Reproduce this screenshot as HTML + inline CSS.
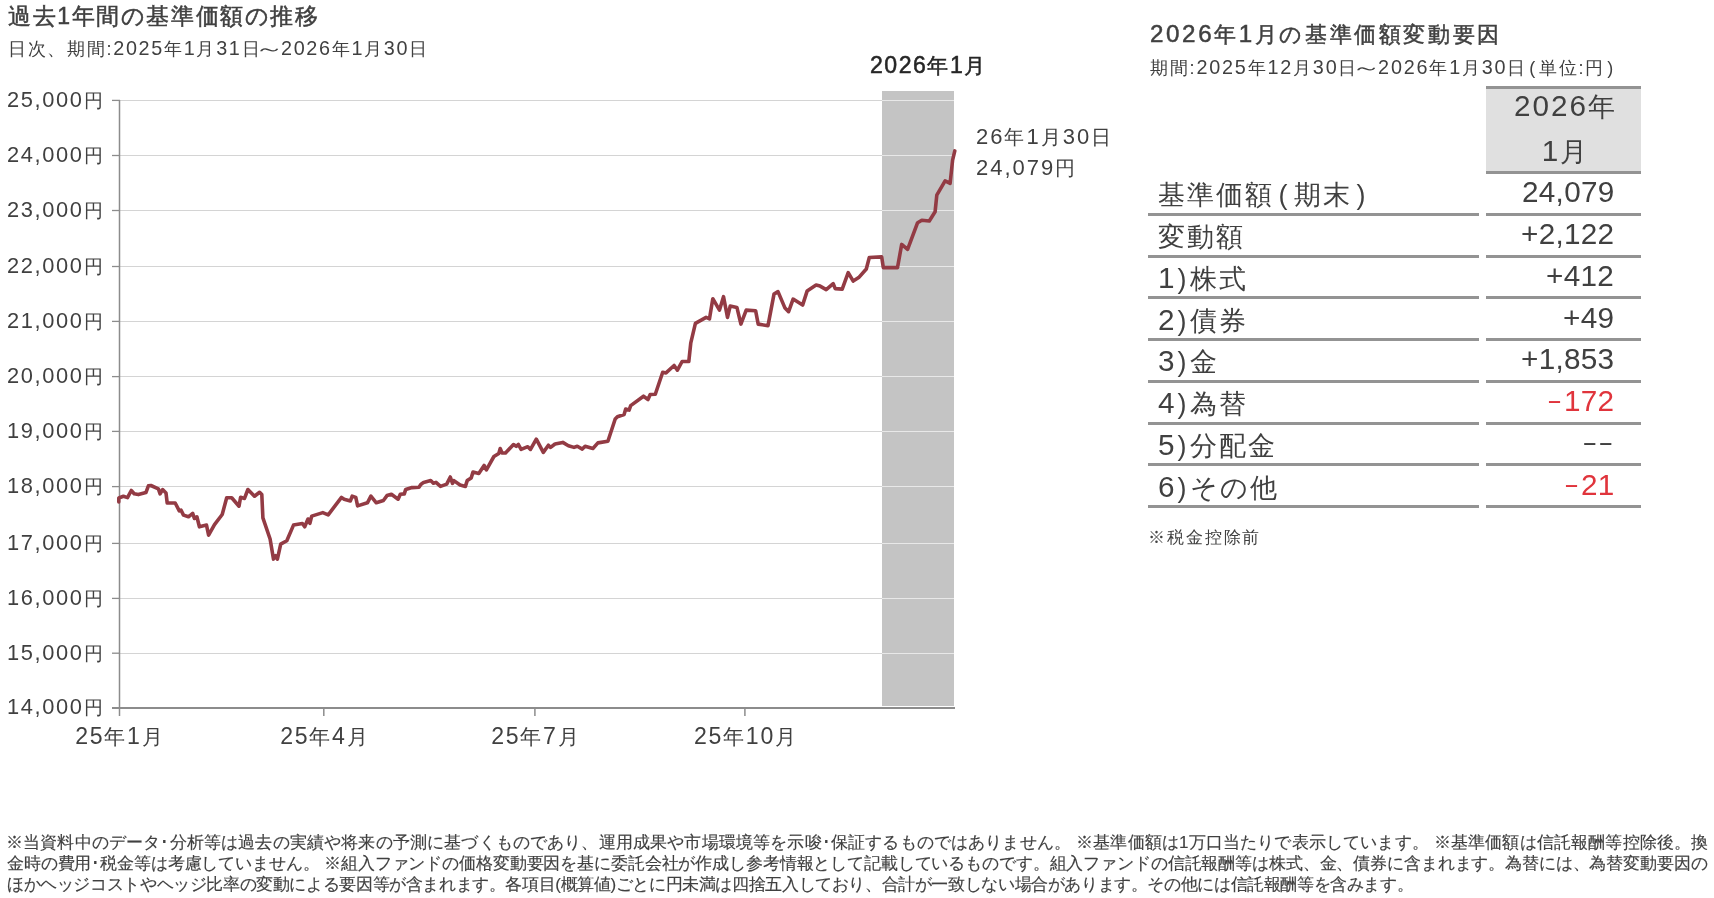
<!DOCTYPE html>
<html lang="ja"><head><meta charset="utf-8"><style>
html,body{margin:0;padding:0;background:#fff;}
body{width:1714px;height:898px;position:relative;overflow:hidden;font-family:"Liberation Sans",sans-serif;color:#404040;}
.a{position:absolute;white-space:nowrap;line-height:1;will-change:transform;}
.tb{position:absolute;height:3px;background:#939393;}
.pp{margin:0 4.5px;}
.p2{margin:0 1px;}
.dd{display:inline-block;width:16px;text-align:center;transform:scaleX(0.85);}
.p3{margin:0 2px;}
.wv{display:inline-block;transform:scaleX(1.7);}
.mn{display:inline-block;width:13px;transform:scaleX(0.85);transform-origin:0 0;margin-right:3px;}
.red{color:#e0343c;}
svg{position:absolute;left:0;top:0;}
</style></head><body>
<svg width="1714" height="898">
<rect x="882" y="91" width="72" height="615" fill="#c4c4c4"/>
<line x1="120" y1="100.5" x2="882" y2="100.5" stroke="#d4d4d4" stroke-width="1"/>
<line x1="882" y1="100.5" x2="954" y2="100.5" stroke="#e8e8e8" stroke-width="1.2"/>
<line x1="112" y1="100.4" x2="120" y2="100.4" stroke="#8c8c8c" stroke-width="1.3"/>
<line x1="120" y1="155.5" x2="882" y2="155.5" stroke="#d4d4d4" stroke-width="1"/>
<line x1="882" y1="155.5" x2="954" y2="155.5" stroke="#e8e8e8" stroke-width="1.2"/>
<line x1="112" y1="155.5" x2="120" y2="155.5" stroke="#8c8c8c" stroke-width="1.3"/>
<line x1="120" y1="210.5" x2="882" y2="210.5" stroke="#d4d4d4" stroke-width="1"/>
<line x1="882" y1="210.5" x2="954" y2="210.5" stroke="#e8e8e8" stroke-width="1.2"/>
<line x1="112" y1="210.5" x2="120" y2="210.5" stroke="#8c8c8c" stroke-width="1.3"/>
<line x1="120" y1="266.5" x2="882" y2="266.5" stroke="#d4d4d4" stroke-width="1"/>
<line x1="882" y1="266.5" x2="954" y2="266.5" stroke="#e8e8e8" stroke-width="1.2"/>
<line x1="112" y1="266.5" x2="120" y2="266.5" stroke="#8c8c8c" stroke-width="1.3"/>
<line x1="120" y1="321.5" x2="882" y2="321.5" stroke="#d4d4d4" stroke-width="1"/>
<line x1="882" y1="321.5" x2="954" y2="321.5" stroke="#e8e8e8" stroke-width="1.2"/>
<line x1="112" y1="321.4" x2="120" y2="321.4" stroke="#8c8c8c" stroke-width="1.3"/>
<line x1="120" y1="376.5" x2="882" y2="376.5" stroke="#d4d4d4" stroke-width="1"/>
<line x1="882" y1="376.5" x2="954" y2="376.5" stroke="#e8e8e8" stroke-width="1.2"/>
<line x1="112" y1="376.6" x2="120" y2="376.6" stroke="#8c8c8c" stroke-width="1.3"/>
<line x1="120" y1="431.5" x2="882" y2="431.5" stroke="#d4d4d4" stroke-width="1"/>
<line x1="882" y1="431.5" x2="954" y2="431.5" stroke="#e8e8e8" stroke-width="1.2"/>
<line x1="112" y1="431.4" x2="120" y2="431.4" stroke="#8c8c8c" stroke-width="1.3"/>
<line x1="120" y1="486.5" x2="882" y2="486.5" stroke="#d4d4d4" stroke-width="1"/>
<line x1="882" y1="486.5" x2="954" y2="486.5" stroke="#e8e8e8" stroke-width="1.2"/>
<line x1="112" y1="486.6" x2="120" y2="486.6" stroke="#8c8c8c" stroke-width="1.3"/>
<line x1="120" y1="543.5" x2="882" y2="543.5" stroke="#d4d4d4" stroke-width="1"/>
<line x1="882" y1="543.5" x2="954" y2="543.5" stroke="#e8e8e8" stroke-width="1.2"/>
<line x1="112" y1="543.4" x2="120" y2="543.4" stroke="#8c8c8c" stroke-width="1.3"/>
<line x1="120" y1="598.5" x2="882" y2="598.5" stroke="#d4d4d4" stroke-width="1"/>
<line x1="882" y1="598.5" x2="954" y2="598.5" stroke="#e8e8e8" stroke-width="1.2"/>
<line x1="112" y1="598.4" x2="120" y2="598.4" stroke="#8c8c8c" stroke-width="1.3"/>
<line x1="120" y1="653.5" x2="882" y2="653.5" stroke="#d4d4d4" stroke-width="1"/>
<line x1="882" y1="653.5" x2="954" y2="653.5" stroke="#e8e8e8" stroke-width="1.2"/>
<line x1="112" y1="653.2" x2="120" y2="653.2" stroke="#8c8c8c" stroke-width="1.3"/>
<line x1="112" y1="708.0" x2="120" y2="708.0" stroke="#8c8c8c" stroke-width="1.3"/>
<line x1="119.5" y1="100" x2="119.5" y2="709" stroke="#8c8c8c" stroke-width="1.5"/>
<line x1="112" y1="708" x2="955" y2="708" stroke="#8c8c8c" stroke-width="2"/>
<line x1="119.5" y1="708" x2="119.5" y2="716" stroke="#8c8c8c" stroke-width="1.5"/>
<line x1="323.8" y1="708" x2="323.8" y2="716" stroke="#8c8c8c" stroke-width="1.5"/>
<line x1="534.9" y1="708" x2="534.9" y2="716" stroke="#8c8c8c" stroke-width="1.5"/>
<line x1="744.9" y1="708" x2="744.9" y2="716" stroke="#8c8c8c" stroke-width="1.5"/>
<polyline fill="none" stroke="#933b44" stroke-width="3.6" stroke-linejoin="round" stroke-linecap="round" points="118.8,502.0 118.8,498.0 123.4,496.3 127.5,497.6 131.3,490.5 134.2,493.8 138.4,494.6 145.9,492.6 148.4,485.9 150.9,485.5 158.4,488.8 160.1,493.8 162.6,489.6 166.0,493.0 167.2,503.0 175.2,503.0 179.3,510.9 181.0,510.1 183.5,515.1 188.5,516.8 192.7,513.4 194.4,518.5 196.9,516.8 199.4,526.8 206.5,525.1 208.6,535.2 214.5,524.6 222.2,514.5 226.7,497.8 231.7,497.8 239.0,506.2 240.6,497.3 244.5,498.4 247.9,489.5 254.5,496.2 259.6,492.3 261.8,494.5 262.9,517.9 270.1,539.0 273.5,559.1 275.7,555.7 277.4,559.1 280.7,544.1 286.8,540.7 293.5,525.1 302.4,523.5 304.7,526.8 308.0,519.0 309.9,523.3 311.7,516.1 322.8,512.6 328.2,514.8 341.5,497.4 344.2,499.2 350.4,501.0 352.2,496.1 355.8,497.4 357.6,505.9 367.4,502.8 370.9,496.1 376.3,502.8 383.4,500.5 387.0,495.6 391.4,494.3 398.1,499.2 400.3,494.3 404.3,493.9 405.7,489.4 411.9,487.6 419.0,487.2 420.8,484.5 423.6,482.4 430.7,480.6 433.4,483.3 436.0,482.4 440.5,486.4 446.7,484.1 450.3,477.0 452.5,483.3 453.9,480.6 460.1,485.0 465.4,486.4 467.2,480.6 471.2,477.9 473.0,472.1 478.8,473.5 484.1,465.4 486.4,469.9 493.9,456.5 498.8,453.4 500.2,448.5 502.0,453.0 505.5,453.0 513.5,444.5 516.2,446.3 518.4,444.5 521.1,449.4 527.8,446.7 530.5,449.4 536.3,439.2 543.3,452.4 548.4,445.2 550.6,447.4 555.0,444.0 562.8,442.4 568.4,445.7 574.0,447.4 577.3,446.3 582.3,449.1 585.1,446.3 592.9,448.5 597.9,442.9 607.9,441.3 615.2,419.0 617.4,416.8 624.1,414.5 625.7,409.0 629.1,410.1 630.7,405.6 643.5,396.2 648.0,399.5 650.2,394.5 655.3,394.3 662.7,372.2 666.0,372.9 674.1,365.5 677.4,370.2 682.1,361.5 688.8,361.5 690.8,342.8 695.4,323.4 706.1,317.4 709.5,318.8 712.8,298.7 719.5,310.1 723.5,296.7 727.5,317.4 730.2,306.1 736.9,307.4 740.9,324.1 746.2,310.1 755.6,310.7 758.2,324.1 768.0,325.7 774.0,294.1 778.0,291.6 785.0,308.1 788.6,311.7 793.1,299.1 802.6,305.1 807.1,291.1 816.1,285.1 820.1,286.1 826.2,289.6 833.2,283.6 835.2,288.6 842.2,289.1 848.2,272.6 853.2,281.1 858.7,277.6 866.3,269.0 869.3,257.5 881.7,256.9 883.3,267.6 897.5,267.6 901.7,244.4 907.6,249.4 917.6,222.7 921.8,220.2 929.3,221.0 935.1,211.8 936.8,195.1 945.1,180.9 950.1,183.4 952.6,160.1 954.8,150.9"/>
</svg>
<div class="a" style="left:8px;top:5px;font-size:23px;letter-spacing:1.6px;-webkit-text-stroke:0.5px currentColor;">過去1年間の基準価額の推移</div>
<div class="a" style="left:8px;top:40.4px;font-size:18px;letter-spacing:1.7px;">日次、期間:<span style="font-size:1.1em;line-height:0">2025</span>年<span style="font-size:1.1em;line-height:0">1</span>月<span style="font-size:1.1em;line-height:0">31</span>日<span class=wv>～</span><span style="font-size:1.1em;line-height:0">2026</span>年<span style="font-size:1.1em;line-height:0">1</span>月<span style="font-size:1.1em;line-height:0">30</span>日</div>
<div class="a" style="right:1609.8px;top:90.8px;font-size:19px;letter-spacing:1.63px"><span style="font-size:1.15em;line-height:0">25,000</span>円</div>
<div class="a" style="right:1609.8px;top:145.9px;font-size:19px;letter-spacing:1.63px"><span style="font-size:1.15em;line-height:0">24,000</span>円</div>
<div class="a" style="right:1609.8px;top:200.9px;font-size:19px;letter-spacing:1.63px"><span style="font-size:1.15em;line-height:0">23,000</span>円</div>
<div class="a" style="right:1609.8px;top:256.9px;font-size:19px;letter-spacing:1.63px"><span style="font-size:1.15em;line-height:0">22,000</span>円</div>
<div class="a" style="right:1609.8px;top:311.8px;font-size:19px;letter-spacing:1.63px"><span style="font-size:1.15em;line-height:0">21,000</span>円</div>
<div class="a" style="right:1609.8px;top:367.0px;font-size:19px;letter-spacing:1.63px"><span style="font-size:1.15em;line-height:0">20,000</span>円</div>
<div class="a" style="right:1609.8px;top:421.8px;font-size:19px;letter-spacing:1.63px"><span style="font-size:1.15em;line-height:0">19,000</span>円</div>
<div class="a" style="right:1609.8px;top:477.0px;font-size:19px;letter-spacing:1.63px"><span style="font-size:1.15em;line-height:0">18,000</span>円</div>
<div class="a" style="right:1609.8px;top:533.8px;font-size:19px;letter-spacing:1.63px"><span style="font-size:1.15em;line-height:0">17,000</span>円</div>
<div class="a" style="right:1609.8px;top:588.8px;font-size:19px;letter-spacing:1.63px"><span style="font-size:1.15em;line-height:0">16,000</span>円</div>
<div class="a" style="right:1609.8px;top:643.6px;font-size:19px;letter-spacing:1.63px"><span style="font-size:1.15em;line-height:0">15,000</span>円</div>
<div class="a" style="right:1609.8px;top:698.4px;font-size:19px;letter-spacing:1.63px"><span style="font-size:1.15em;line-height:0">14,000</span>円</div>
<div class="a" style="left:19.2px;width:200px;text-align:center;top:726px;font-size:21px;letter-spacing:1.7px;text-indent:1.7px"><span style="font-size:1.1em;line-height:0">25</span>年<span style="font-size:1.1em;line-height:0">1</span>月</div>
<div class="a" style="left:223.5px;width:200px;text-align:center;top:726px;font-size:21px;letter-spacing:1.7px;text-indent:1.7px"><span style="font-size:1.1em;line-height:0">25</span>年<span style="font-size:1.1em;line-height:0">4</span>月</div>
<div class="a" style="left:434.6px;width:200px;text-align:center;top:726px;font-size:21px;letter-spacing:1.7px;text-indent:1.7px"><span style="font-size:1.1em;line-height:0">25</span>年<span style="font-size:1.1em;line-height:0">7</span>月</div>
<div class="a" style="left:644.6px;width:200px;text-align:center;top:726px;font-size:21px;letter-spacing:1.7px;text-indent:1.7px"><span style="font-size:1.1em;line-height:0">25</span>年<span style="font-size:1.1em;line-height:0">10</span>月</div>
<div class="a" style="left:870px;top:54.6px;font-size:21px;letter-spacing:1.5px;color:#262626;-webkit-text-stroke:0.5px currentColor;"><span style="font-size:1.1em;line-height:0">2026</span>年<span style="font-size:1.1em;line-height:0">1</span>月</div>
<div class="a" style="left:976px;top:127px;font-size:20px;letter-spacing:2px;"><span style="font-size:1.1em;line-height:0">26</span>年<span style="font-size:1.1em;line-height:0">1</span>月<span style="font-size:1.1em;line-height:0">30</span>日</div>
<div class="a" style="left:976px;top:158.2px;font-size:20px;letter-spacing:2px;"><span style="font-size:1.1em;line-height:0">24,079</span>円</div>
<div class="a" style="left:1150px;top:24px;font-size:22px;letter-spacing:2.6px;-webkit-text-stroke:0.5px currentColor;"><span style="font-size:1.1em;line-height:0">2026</span>年<span style="font-size:1.1em;line-height:0">1</span>月の基準価額変動要因</div>
<div class="a" style="left:1150px;top:59px;font-size:18px;letter-spacing:1.8px;">期間:<span style="font-size:1.1em;line-height:0">2025</span>年<span style="font-size:1.1em;line-height:0">12</span>月<span style="font-size:1.1em;line-height:0">30</span>日<span class=wv>～</span><span style="font-size:1.1em;line-height:0">2026</span>年<span style="font-size:1.1em;line-height:0">1</span>月<span style="font-size:1.1em;line-height:0">30</span>日<span class=p3>(</span>単位:円<span class=p3>)</span></div>
<div style="position:absolute;left:1486px;top:86px;width:155px;height:87px;background:#e0e0e0;"></div>
<div class="tb" style="left:1486px;width:155px;top:86px;"></div>
<div class="tb" style="left:1486px;width:155px;top:171px;"></div>
<div class="a" style="left:1488px;top:94px;font-size:27px;letter-spacing:2px;width:155px;text-align:center;"><span style="font-size:1.1em;line-height:0">2026</span>年</div>
<div class="a" style="left:1488px;top:139.2px;font-size:27px;letter-spacing:2px;width:155px;text-align:center;"><span style="font-size:1.1em;line-height:0">1</span>月</div>
<div class="tb" style="left:1148px;width:331px;top:212.8px"></div>
<div class="tb" style="left:1486px;width:155px;top:212.8px"></div>
<div class="a" style="left:1158px;top:182.3px;font-size:27px;letter-spacing:2px">基準価額<span class=pp>(</span>期末<span class=pp>)</span></div>
<div class="a" style="right:99.8px;top:180.2px;font-size:27px;letter-spacing:0.3px"><span style="font-size:1.1em;line-height:0">24,079</span></div>
<div class="tb" style="left:1148px;width:331px;top:254.6px"></div>
<div class="tb" style="left:1486px;width:155px;top:254.6px"></div>
<div class="a" style="left:1158px;top:224.1px;font-size:27px;letter-spacing:2px">変動額</div>
<div class="a" style="right:99.8px;top:222.0px;font-size:27px;letter-spacing:0.3px"><span style="font-size:1.1em;line-height:0">+2,122</span></div>
<div class="tb" style="left:1148px;width:331px;top:296.3px"></div>
<div class="tb" style="left:1486px;width:155px;top:296.3px"></div>
<div class="a" style="left:1158px;top:265.8px;font-size:27px;letter-spacing:2px"><span style="font-size:1.1em;line-height:0">1</span><span class=p2>)</span>株式</div>
<div class="a" style="right:99.8px;top:263.7px;font-size:27px;letter-spacing:0.3px"><span style="font-size:1.1em;line-height:0">+412</span></div>
<div class="tb" style="left:1148px;width:331px;top:338.1px"></div>
<div class="tb" style="left:1486px;width:155px;top:338.1px"></div>
<div class="a" style="left:1158px;top:307.6px;font-size:27px;letter-spacing:2px"><span style="font-size:1.1em;line-height:0">2</span><span class=p2>)</span>債券</div>
<div class="a" style="right:99.8px;top:305.5px;font-size:27px;letter-spacing:0.3px"><span style="font-size:1.1em;line-height:0">+49</span></div>
<div class="tb" style="left:1148px;width:331px;top:379.9px"></div>
<div class="tb" style="left:1486px;width:155px;top:379.9px"></div>
<div class="a" style="left:1158px;top:349.4px;font-size:27px;letter-spacing:2px"><span style="font-size:1.1em;line-height:0">3</span><span class=p2>)</span>金</div>
<div class="a" style="right:99.8px;top:347.3px;font-size:27px;letter-spacing:0.3px"><span style="font-size:1.1em;line-height:0">+1,853</span></div>
<div class="tb" style="left:1148px;width:331px;top:421.7px"></div>
<div class="tb" style="left:1486px;width:155px;top:421.7px"></div>
<div class="a" style="left:1158px;top:391.2px;font-size:27px;letter-spacing:2px"><span style="font-size:1.1em;line-height:0">4</span><span class=p2>)</span>為替</div>
<div class="a red" style="right:99.8px;top:389.1px;font-size:27px;letter-spacing:0.3px"><span class=mn>−</span><span style="font-size:1.1em;line-height:0">172</span></div>
<div class="tb" style="left:1148px;width:331px;top:463.4px"></div>
<div class="tb" style="left:1486px;width:155px;top:463.4px"></div>
<div class="a" style="left:1158px;top:432.9px;font-size:27px;letter-spacing:2px"><span style="font-size:1.1em;line-height:0">5</span><span class=p2>)</span>分配金</div>
<div class="a" style="right:99.8px;top:430.8px;font-size:27px;letter-spacing:0.3px"><span class=dd>−</span><span class=dd>−</span></div>
<div class="tb" style="left:1148px;width:331px;top:505.2px"></div>
<div class="tb" style="left:1486px;width:155px;top:505.2px"></div>
<div class="a" style="left:1158px;top:474.7px;font-size:27px;letter-spacing:2px"><span style="font-size:1.1em;line-height:0">6</span><span class=p2>)</span>その他</div>
<div class="a red" style="right:99.8px;top:472.6px;font-size:27px;letter-spacing:0.3px"><span class=mn>−</span><span style="font-size:1.1em;line-height:0">21</span></div>
<div class="a" style="left:1147.5px;top:528.5px;font-size:17px;letter-spacing:1.88px;">※税金控除前</div>
<div class="a" style="left:5.9px;top:833.5px;font-size:17px;letter-spacing:0.161px;-webkit-text-stroke:0.15px currentColor;font-feature-settings:'palt';">※当資料中のデータ･分析等は過去の実績や将来の予測に基づくものであり、運用成果や市場環境等を示唆･保証するものではありません。 ※基準価額は1万口当たりで表示しています。 ※基準価額は信託報酬等控除後。換</div>
<div class="a" style="left:6.9px;top:854.5px;font-size:17px;letter-spacing:-0.129px;-webkit-text-stroke:0.15px currentColor;font-feature-settings:'palt';">金時の費用･税金等は考慮していません。 ※組入ファンドの価格変動要因を基に委託会社が作成し参考情報として記載しているものです。組入ファンドの信託報酬等は株式、金、債券に含まれます。為替には、為替変動要因の</div>
<div class="a" style="left:6.9px;top:875.5px;font-size:17px;letter-spacing:-0.384px;-webkit-text-stroke:0.15px currentColor;font-feature-settings:'palt';">ほかヘッジコストやヘッジ比率の変動による要因等が含まれます。各項目(概算値)ごとに円未満は四捨五入しており、合計が一致しない場合があります。その他には信託報酬等を含みます。</div>
</body></html>
